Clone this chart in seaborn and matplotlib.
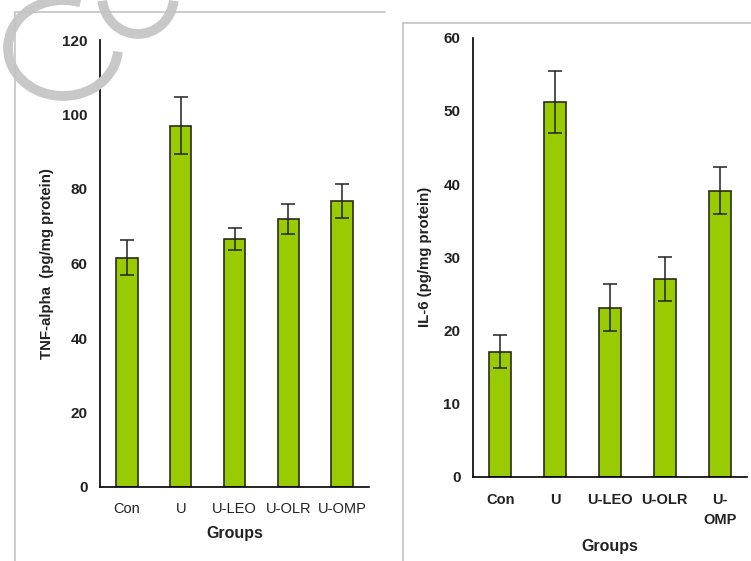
import numpy as np
import pandas as pd
import seaborn as sns
import matplotlib.pyplot as plt
from matplotlib.lines import Line2D
from matplotlib.patches import Arc

groups = ['Con', 'U', 'U-LEO', 'U-OLR', 'U-OMP']
groups_right = ['Con', 'U', 'U-LEO', 'U-OLR', 'U-\nOMP']
tnf_mean = [61.5, 97.0, 66.5, 72.0, 76.8]
tnf_err = [4.7, 7.7, 3.0, 4.0, 4.6]
il6_mean = [17.1, 51.2, 23.1, 27.0, 39.1]
il6_err = [2.3, 4.2, 3.2, 3.0, 3.2]

bar_color = '#99CC00'
edge_color = '#2b2b1a'

sns.set_style('white')
plt.rcParams['font.family'] = ['Liberation Sans', 'DejaVu Sans']

fig = plt.figure(figsize=(7.51, 5.61), dpi=100)
W, H = 751, 561


def fx(px):
    return px / W


def fy(py):
    return 1 - py / H


# grey frames of the two panels
grey = '#c4c4c4'
fig.add_artist(Line2D([fx(15), fx(385)], [fy(12), fy(12)], color=grey, lw=1.2))
fig.add_artist(Line2D([fx(15), fx(15)], [fy(12), 0], color=grey, lw=1.2))
fig.add_artist(Line2D([fx(403), 1], [fy(23), fy(23)], color=grey, lw=1.2))
fig.add_artist(Line2D([fx(403), fx(403)], [fy(23), 0], color=grey, lw=1.2))

# watermark arcs in the corner
wm = '#c8c8c8'
fig.add_artist(Arc((fx(63), fy(48)), 110 / W, 96 / H, angle=0, theta1=74, theta2=355,
                   transform=fig.transFigure, color=wm, lw=7))
fig.add_artist(Arc((fx(138), fy(-4)), 72 / W, 76 / H, angle=0, theta1=190, theta2=350,
                   transform=fig.transFigure, color=wm, lw=7))


def draw_panel(ax, labels, means, errs, ylim, step, ylabel, tick_bold):
    df = pd.DataFrame({'group': labels, 'value': means})
    sns.barplot(data=df, x='group', y='value', ax=ax, color=bar_color,
                edgecolor=edge_color, linewidth=1.2, width=0.4, saturation=1)
    ax.errorbar(range(len(labels)), means, yerr=errs, fmt='none',
                ecolor='#222222', elinewidth=1.1, capsize=5, capthick=1.1)
    ax.set_xlim(-0.5, len(labels) - 0.5)
    ax.set_ylim(*ylim)
    ax.set_yticks(np.arange(ylim[0], ylim[1] + 1, step))
    for s in ['top', 'right']:
        ax.spines[s].set_visible(False)
    for s in ['left', 'bottom']:
        ax.spines[s].set_color('black')
        ax.spines[s].set_linewidth(1.2)
    # major x ticks on the category boundaries, labels at centres
    ax.set_xticks(np.arange(-0.5, len(labels), 1.0))
    ax.set_xticklabels([])
    ax.set_xticks(range(len(labels)), minor=True)
    ax.set_xticklabels(labels, minor=True,
                       fontweight='bold' if tick_bold else 'normal',
                       fontsize=10.5, color='#222222', linespacing=1.5)
    ax.tick_params(axis='x', which='major', direction='out', length=5, width=1.2, color='black')
    ax.tick_params(axis='y', direction='out', length=5, width=1.2, color='black', pad=4)
    for t in ax.get_yticklabels():
        t.set_fontweight('bold')
        t.set_fontsize(11)
        t.set_color('#222222')
    ax.set_ylabel(ylabel, fontweight='bold', fontsize=10.8, color='#222222')


ax1 = fig.add_axes([fx(100), fy(487), fx(369) - fx(100), fy(40) - fy(487)])
draw_panel(ax1, groups, tnf_mean, tnf_err, (0, 120), 20,
           'TNF-alpha  (pg/mg protein)', False)
ax1.tick_params(axis='x', which='minor', length=0, pad=11)
ax1.set_xlabel('Groups', fontweight='bold', fontsize=11.5, color='#222222', labelpad=7)
ax1.yaxis.set_label_coords(fx(54 - 100) / (fx(369) - fx(100)), 0.5)

ax2 = fig.add_axes([fx(473), fy(476.7), fx(747) - fx(473), fy(37.7) - fy(476.7)])
draw_panel(ax2, groups_right, il6_mean, il6_err, (0, 60), 10,
           'IL-6 (pg/mg protein)', True)
ax2.tick_params(axis='x', which='minor', length=0, pad=12)
ax2.set_xlabel('Groups', fontweight='bold', fontsize=11.5, color='#222222', labelpad=9)
ax2.yaxis.set_label_coords(fx(432 - 473) / (fx(747) - fx(473)), 0.5)

fig.savefig('out.png', dpi=100)
